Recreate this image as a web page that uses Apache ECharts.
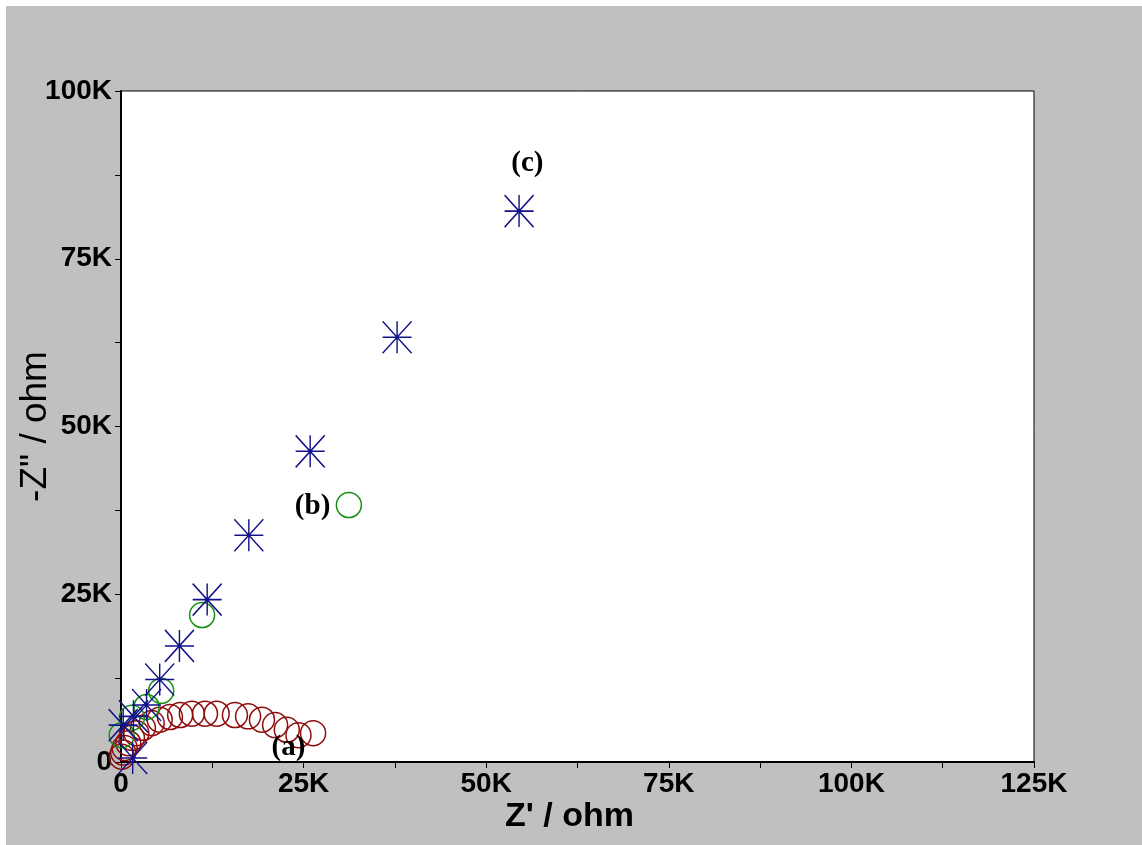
<!DOCTYPE html>
<html>
<head>
<meta charset="utf-8">
<script src="https://cdn.jsdelivr.net/npm/echarts@6/dist/echarts.min.js"></script>
<style>
  html, body { margin: 0; padding: 0; background: #c0c0c0; }
  #chart { width: 1142px; height: 845px; }
</style>
</head>
<body>
<div id="chart"></div>
<script>
// Nyquist data: Z' (ohm) vs -Z'' (ohm)
const seriesA = [
  [100, 800], [300, 1400], [500, 2100], [1000, 2800], [1500, 3600], [2100, 4300],
  [3000, 5100], [4200, 5800], [5300, 6300], [6700, 6700], [8100, 7000], [9700, 7200],
  [11500, 7200], [13100, 7200], [15600, 7000], [17400, 6800], [19300, 6300],
  [21100, 5500], [22700, 4800], [24300, 4000], [26300, 4300]
];
const seriesB = [
  [100, 4000], [1500, 6600], [3500, 8200], [5500, 10600], [11100, 21900], [31200, 38300]
];
const seriesC = [
  [1600, 600], [300, 5500], [1700, 6800], [3500, 8500], [5300, 12300], [8000, 17300],
  [11800, 24200], [17500, 33800], [25900, 46300], [37800, 63300], [54500, 82100]
];
// curve labels placed in data coordinates
const curveLabels = ['(a)', '(b)', '(c)'];
const curveLabelAt = [[23000, 2100], [26300, 38000], [55700, 89100]];

const xTicks = { min: 0, max: 125000, step: 12500 };
const yTicks = { min: 0, max: 100000, step: 12500 };

const kFormat = v => (v % 25000 !== 0 ? '' : (v === 0 ? '0' : (v / 1000) + 'K'));

const asterisk = 'path://M0,16 L30,16 M15,0 L15,32 M0,0 L30,32 M30,0 L0,32';

const chart = echarts.init(document.getElementById('chart'), null, { renderer: 'canvas' });

chart.setOption({
  animation: false,
  backgroundColor: '#c0c0c0',
  graphic: [
    { type: 'rect', left: 0, top: 0, shape: { width: 1142, height: 6 }, style: { fill: '#ffffff' }, z: -1 },
    { type: 'rect', left: 0, top: 0, shape: { width: 6, height: 845 }, style: { fill: '#ffffff' }, z: -1 }
  ],
  grid: {
    left: 121, right: 108, top: 91, bottom: 83,
    containLabel: false, outerBoundsMode: 'none',
    show: true, backgroundColor: '#ffffff', borderColor: '#000000', borderWidth: 1
  },
  xAxis: {
    type: 'value', min: xTicks.min, max: xTicks.max, interval: xTicks.step,
    name: "Z' / ohm", nameLocation: 'middle', nameGap: 38, nameMoveOverlap: false,
    nameTextStyle: { fontFamily: 'Liberation Sans, Arial, sans-serif', fontWeight: 'bold', fontSize: 34, color: '#000', padding: [0, 16, 0, 0] },
    axisLine: { show: true, onZero: false, lineStyle: { color: '#000', width: 2 } },
    axisTick: { show: true, inside: false, length: 6, lineStyle: { color: '#000', width: 1 } },
    axisLabel: { formatter: kFormat, margin: 8, color: '#000', fontFamily: 'Liberation Sans, Arial, sans-serif', fontWeight: 'bold', fontSize: 28 },
    splitLine: { show: false }
  },
  yAxis: {
    type: 'value', min: yTicks.min, max: yTicks.max, interval: yTicks.step,
    name: '-Z" / ohm', nameLocation: 'middle', nameGap: 67, nameRotate: 90, nameMoveOverlap: false,
    nameTextStyle: { fontFamily: 'Liberation Sans, Arial, sans-serif', fontSize: 37, color: '#000' },
    axisLine: { show: true, onZero: false, lineStyle: { color: '#000', width: 2 } },
    axisTick: { show: true, inside: false, length: 6, lineStyle: { color: '#000', width: 1 } },
    axisLabel: { formatter: kFormat, margin: 9, color: '#000', fontFamily: 'Liberation Sans, Arial, sans-serif', fontWeight: 'bold', fontSize: 28 },
    splitLine: { show: false }
  },
  series: [
    {
      name: '(a)', type: 'scatter', data: seriesA, symbol: 'circle', symbolSize: 25,
      itemStyle: { opacity: 1, color: 'transparent', borderColor: '#8e0c0c', borderWidth: 1.5 }, z: 3
    },
    {
      name: '(b)', type: 'scatter', data: seriesB, symbol: 'circle', symbolSize: 25,
      itemStyle: { opacity: 1, color: 'transparent', borderColor: '#159015', borderWidth: 1.5 }, z: 4
    },
    {
      name: '(c)', type: 'scatter', data: seriesC, symbol: asterisk, symbolSize: [29, 32],
      symbolKeepAspect: false,
      itemStyle: { opacity: 1, color: 'transparent', borderColor: '#12128a', borderWidth: 1.5 }, z: 5
    },
    {
      name: 'labels', type: 'scatter', symbol: 'circle', symbolSize: 1, silent: true, z: 10,
      itemStyle: { opacity: 1, color: 'transparent' },
      data: curveLabelAt.map((p, i) => ({ value: p, name: curveLabels[i] })),
      label: {
        show: true, position: [0, 0], align: 'center', verticalAlign: 'middle',
        formatter: p => p.name, textBorderWidth: 0, opacity: 1,
        fontFamily: 'Liberation Serif, Times New Roman, serif', fontWeight: 'bold',
        fontSize: 29, color: '#000000'
      }
    }
  ]
});
</script>
</body>
</html>
